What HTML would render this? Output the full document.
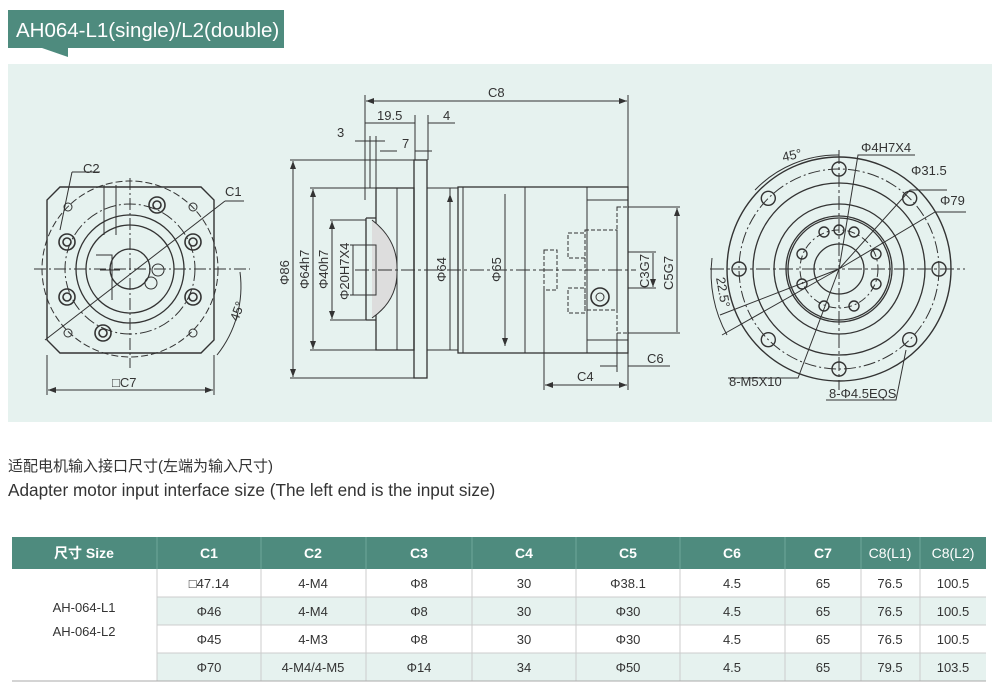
<!DOCTYPE html>
<html><head><meta charset="utf-8"><style>
body{margin:0;background:#fff;width:1000px;height:696px;overflow:hidden}
svg{display:block}
</style></head><body>
<svg width="1000" height="696" viewBox="0 0 1000 696" xmlns="http://www.w3.org/2000/svg" font-family="Liberation Sans, sans-serif">
<defs><marker id="a" markerWidth="8" markerHeight="6" refX="8" refY="3" orient="auto-start-reverse"><path d="M0 0 L8 3 L0 6 Z" fill="#333"/></marker></defs>
<rect x="8" y="10" width="276" height="38" fill="#4e8b7e"/>
<polygon points="42,48 68,48 68,57" fill="#4e8b7e"/>
<text x="16" y="37" font-size="20.5" fill="#fff">AH064-L1(single)/L2(double)</text>
<rect x="8" y="64" width="984" height="358" fill="#e6f2ef"/>
<g stroke="#333" fill="none" stroke-width="1">
<polygon points="60,187 201,187 214,200 214,340 201,353 60,353 47,340 47,200" stroke-width="1.4"/>
<circle cx="130" cy="269" r="88" stroke-dasharray="7,3"/>
<circle cx="130" cy="269" r="65" stroke-dasharray="12,3,2,3"/>
<circle cx="130" cy="269" r="54" stroke-width="1.3"/>
<circle cx="130" cy="269" r="44" stroke-width="1.3"/>
<circle cx="130" cy="269" r="20" stroke-width="1.3"/>
<line x1="34" y1="269" x2="250" y2="269" stroke-dasharray="12,3,2,3"/>
<line x1="130" y1="178" x2="130" y2="368" stroke-dasharray="12,3,2,3"/>
<line x1="45" y1="340" x2="225" y2="201"/>
<line x1="225" y1="201" x2="244" y2="201"/>
<line x1="72" y1="172" x2="100" y2="172"/><line x1="72" y1="172" x2="60" y2="230"/>
<path d="M104 185 V235 M116 185 V235 M96 255 H112 V300 M100 270 H120"/>
<circle cx="158" cy="270" r="6"/><circle cx="151" cy="283" r="6"/>
<g stroke-width="1.6">
<circle cx="157" cy="205" r="8"/><circle cx="157" cy="205" r="4"/>
<circle cx="67" cy="242" r="8"/><circle cx="67" cy="242" r="4"/>
<circle cx="193" cy="242" r="8"/><circle cx="193" cy="242" r="4"/>
<circle cx="67" cy="297" r="8"/><circle cx="67" cy="297" r="4"/>
<circle cx="193" cy="297" r="8"/><circle cx="193" cy="297" r="4"/>
<circle cx="103" cy="333" r="8"/><circle cx="103" cy="333" r="4"/>
</g>
<circle cx="68" cy="207" r="4"/><circle cx="193" cy="207" r="4"/><circle cx="68" cy="333" r="4"/><circle cx="193" cy="333" r="4"/>
<path d="M47 355 V395 M214 355 V395"/>
<path d="M48 390 H213" marker-start="url(#a)" marker-end="url(#a)"/>
<path d="M240 272 A110 110 0 0 1 217 355"/>
<rect x="414" y="160" width="13" height="218" stroke-width="1.3"/>
<path d="M376 188 H414 V350 H376 Z" stroke-width="1.3"/>
<path d="M397 188 V350"/>
<path d="M366 218 H376 M366 320 H376 M366 218 V320" stroke-width="1.3"/>
<path d="M372 220 Q398 240 397 270 Q398 300 372 318" fill="#ddd"/>
<path d="M370 245 H376 V295 H370" />
<path d="M427 188 H458 M427 350 H458 M450 188 V350"/>
<rect x="458" y="187" width="170" height="166" stroke-width="1.3"/>
<path d="M463 187 V353 M525 187 V353 M587 187 V353"/>
<rect x="587" y="200" width="41" height="140"/>
<g stroke-dasharray="4,2">
<rect x="544" y="250" width="13" height="40"/>
<rect x="568" y="233" width="17" height="25"/>
<rect x="568" y="288" width="17" height="25"/>
<rect x="585" y="230" width="32" height="80"/>
<rect x="617" y="207" width="11" height="126"/>
</g>
<circle cx="600" cy="297" r="9" stroke-width="1.6"/><circle cx="600" cy="297" r="4"/>
<line x1="355" y1="270" x2="636" y2="270" stroke-dasharray="14,3,3,3"/>
<path d="M365 95 V200 M628 95 V187"/>
<path d="M366 101 H627" marker-start="url(#a)" marker-end="url(#a)"/>
<path d="M365 123 H415 M428 123 H455 M415 115 V160 M428 115 V160"/>
<path d="M355 141 H385 M370 136 V188 M376 136 V188"/>
<path d="M380 151 H397 M415 151 H432"/>
<path d="M290 160 H414 M290 378 H414"/>
<path d="M293 161 V377" marker-start="url(#a)" marker-end="url(#a)"/>
<path d="M310 188 H376 M310 350 H376"/>
<path d="M313 189 V349" marker-start="url(#a)" marker-end="url(#a)"/>
<path d="M330 220 H366 M330 320 H366"/>
<path d="M332 221 V319" marker-start="url(#a)" marker-end="url(#a)"/>
<path d="M350 245 H370 M350 295 H370 M353 245 V295"/>
<path d="M450 194 V346 M505 194 V346" marker-start="url(#a)" marker-end="url(#a)"/>
<path d="M628 207 H680 M628 333 H680 M628 252 H656 M628 288 H656"/>
<path d="M677 208 V332 M653 253 V287" marker-start="url(#a)" marker-end="url(#a)"/>
<path d="M544 290 V390 M628 353 V390 M617 333 V372 M600 366 H617 M628 366 H670"/>
<path d="M545 385 H627" marker-start="url(#a)" marker-end="url(#a)"/>
<circle cx="839" cy="269" r="112" stroke-width="1.4"/>
<circle cx="839" cy="269" r="100" stroke-dasharray="12,3,2,3"/>
<circle cx="839" cy="269" r="86" stroke-width="1.3"/>
<circle cx="839" cy="269" r="65" stroke-width="1.3"/>
<circle cx="839" cy="269" r="53" stroke-width="1.3"/>
<circle cx="839" cy="269" r="51" stroke-width="1.3"/>
<circle cx="839" cy="269" r="39" stroke-dasharray="8,3,2,3"/>
<circle cx="839" cy="269" r="25" stroke-width="1.3"/>
<line x1="710" y1="269" x2="965" y2="269" stroke-dasharray="14,3,3,3"/>
<line x1="839" y1="150" x2="839" y2="390" stroke-dasharray="14,3,3,3"/>
<g stroke-width="1.4">
<circle cx="839" cy="169" r="7"/><circle cx="909.7" cy="198.3" r="7"/><circle cx="939" cy="269" r="7"/><circle cx="909.7" cy="339.7" r="7"/>
<circle cx="839" cy="369" r="7"/><circle cx="768.3" cy="339.7" r="7"/><circle cx="739" cy="269" r="7"/><circle cx="768.3" cy="198.3" r="7"/>
<circle cx="839" cy="230" r="5"/><circle cx="824" cy="232" r="5"/><circle cx="854" cy="232" r="5"/>
<circle cx="876" cy="254" r="5"/><circle cx="876" cy="284" r="5"/><circle cx="854" cy="306" r="5"/><circle cx="824" cy="306" r="5"/>
<circle cx="802" cy="284" r="5"/><circle cx="802" cy="254" r="5"/>
</g>
<path d="M839 269 L858 155 H915 M839 269 L910 190 H947 M839 269 L935 212 H966"/>
<path d="M839 269 L720 315 M839 269 L722 335 M839 269 L798 378 H728"/>
<path d="M906 350 L896 400 H826"/>
<path d="M839 155 A114 114 0 0 0 755 190"/>
<path d="M712 258 A128 128 0 0 0 727 335"/>
</g>
<g font-size="13" fill="#333">
<text x="83" y="173">C2</text><text x="225" y="196">C1</text>
<text x="112" y="387">□C7</text>
<text transform="translate(238 322) rotate(-70)">45°</text>
<text x="488" y="97">C8</text><text x="377" y="120">19.5</text><text x="443" y="120">4</text>
<text x="337" y="137">3</text><text x="402" y="148">7</text>
<text transform="translate(289 285) rotate(-90)">Φ86</text>
<text transform="translate(309 289) rotate(-90)">Φ64h7</text>
<text transform="translate(328 289) rotate(-90)">Φ40h7</text>
<text transform="translate(349 300) rotate(-90)">Φ20H7X4</text>
<text transform="translate(446 282) rotate(-90)">Φ64</text>
<text transform="translate(501 282) rotate(-90)">Φ65</text>
<text transform="translate(649 288) rotate(-90)">C3G7</text>
<text transform="translate(673 290) rotate(-90)">C5G7</text>
<text x="647" y="363">C6</text><text x="577" y="381">C4</text>
<text x="782" y="160" transform="rotate(-12 790 155)">45°</text>
<text x="861" y="152">Φ4H7X4</text><text x="911" y="175">Φ31.5</text><text x="940" y="205">Φ79</text>
<text transform="translate(716 278) rotate(80)">22.5°</text>
<text x="729" y="386">8-M5X10</text><text x="829" y="398">8-Φ4.5EQS</text>
</g>
<text x="8" y="471" font-size="15" fill="#333" font-family="Liberation Sans, Noto Sans CJK SC, sans-serif">适配电机输入接口尺寸(左端为输入尺寸)</text>
<text x="8" y="496" font-size="17.2" fill="#333">Adapter motor input interface size (The left end is the input size)</text>
<rect x="12" y="537" width="974" height="32" fill="#4e8b7e"/>
<rect x="157" y="597" width="829" height="28" fill="#e6f2ef"/>
<rect x="157" y="653" width="829" height="28" fill="#e6f2ef"/>
<g stroke="#ccc" stroke-width="1">
<path d="M157 597 H986 M157 625 H986 M157 653 H986"/>
<path d="M157 569 V681 M261 569 V681 M366 569 V681 M472 569 V681 M576 569 V681 M680 569 V681 M785 569 V681 M861 569 V681 M920 569 V681"/>
<path d="M12 681 H986" stroke="#aaa"/>
</g>
<g stroke="#6fa79a"><path d="M157 537 V569 M261 537 V569 M366 537 V569 M472 537 V569 M576 537 V569 M680 537 V569 M785 537 V569 M861 537 V569 M920 537 V569"/></g>
<g font-size="14" fill="#fff" font-weight="bold" text-anchor="middle" font-family="Liberation Sans, Noto Sans CJK SC, sans-serif">
<text x="84" y="558">尺寸 Size</text><text x="209" y="558">C1</text><text x="313" y="558">C2</text><text x="419" y="558">C3</text><text x="524" y="558">C4</text><text x="628" y="558">C5</text><text x="732" y="558">C6</text><text x="823" y="558">C7</text><text x="890" y="558" font-weight="normal">C8(L1)</text><text x="953" y="558" font-weight="normal">C8(L2)</text>
</g>
<g font-size="13" fill="#333" text-anchor="middle">
<text x="84" y="612">AH-064-L1</text><text x="84" y="636">AH-064-L2</text>
<g transform="translate(0 588)"><text x="209">□47.14</text><text x="313">4-M4</text><text x="419">Φ8</text><text x="524">30</text><text x="628">Φ38.1</text><text x="732">4.5</text><text x="823">65</text><text x="890">76.5</text><text x="953">100.5</text></g>
<g transform="translate(0 616)"><text x="209">Φ46</text><text x="313">4-M4</text><text x="419">Φ8</text><text x="524">30</text><text x="628">Φ30</text><text x="732">4.5</text><text x="823">65</text><text x="890">76.5</text><text x="953">100.5</text></g>
<g transform="translate(0 644)"><text x="209">Φ45</text><text x="313">4-M3</text><text x="419">Φ8</text><text x="524">30</text><text x="628">Φ30</text><text x="732">4.5</text><text x="823">65</text><text x="890">76.5</text><text x="953">100.5</text></g>
<g transform="translate(0 672)"><text x="209">Φ70</text><text x="313">4-M4/4-M5</text><text x="419">Φ14</text><text x="524">34</text><text x="628">Φ50</text><text x="732">4.5</text><text x="823">65</text><text x="890">79.5</text><text x="953">103.5</text></g>
</g>
</svg>
</body></html>
